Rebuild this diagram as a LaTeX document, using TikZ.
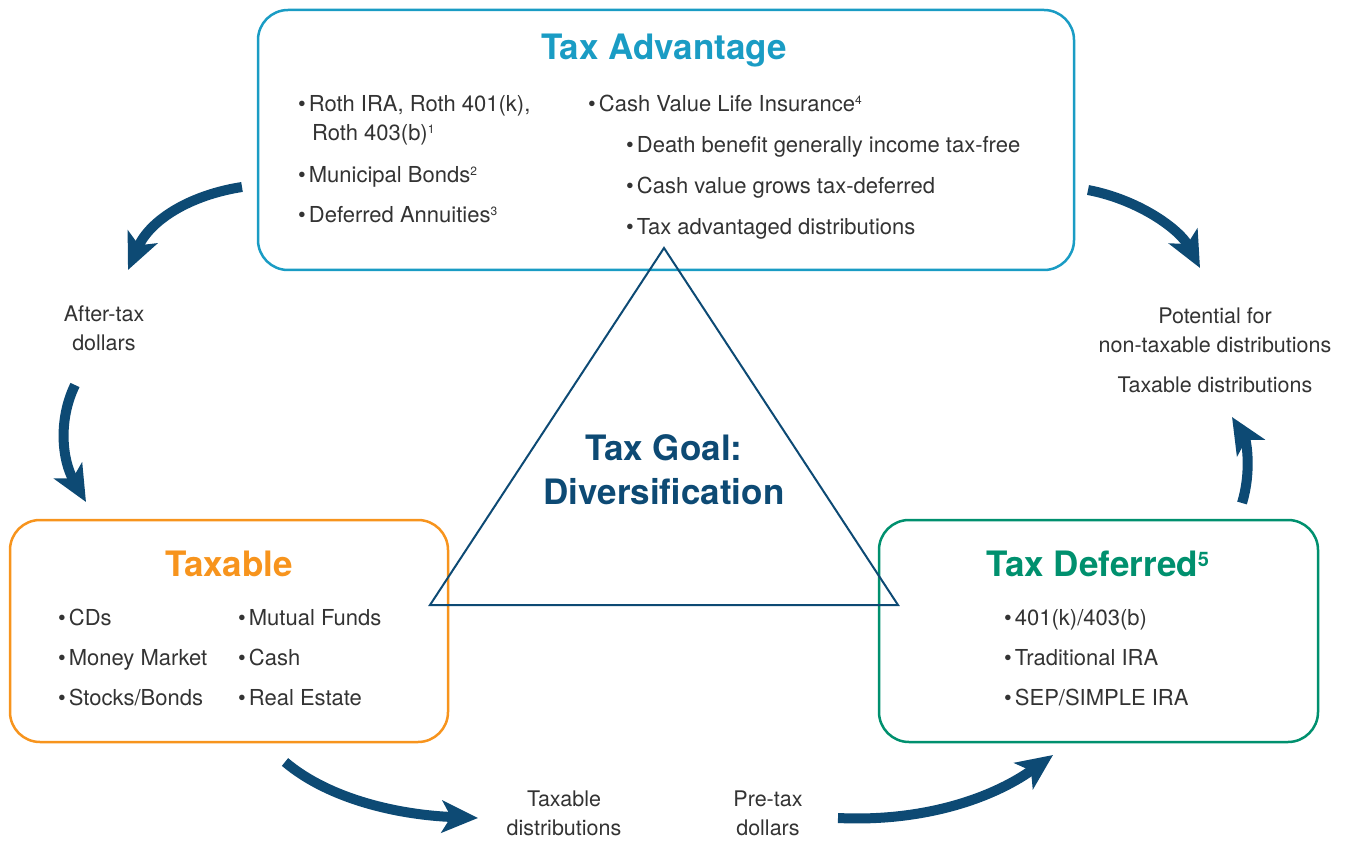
\documentclass[tikz,border=0pt]{standalone}
\usepackage{fontspec}
\setmainfont{TeX Gyre Heros}
\usetikzlibrary{arrows.meta}
\definecolor{advc}{HTML}{1A9CC4}
\definecolor{orc}{HTML}{F7941D}
\definecolor{grc}{HTML}{00906E}
\definecolor{navy}{HTML}{0D4A74}
\definecolor{txt}{HTML}{333333}
\tikzset{
  box/.style={draw, line width=2.5pt, rounded corners=30pt},
  ttl/.style={font=\fontsize{35}{40}\selectfont\bfseries, anchor=base},
  item/.style={font=\fontsize{22}{26}\selectfont, text=txt, anchor=base west, inner sep=0pt},
  lbl/.style={font=\fontsize{21.5}{29}\selectfont, text=txt, align=center, inner sep=0pt},
  bigarrow/.style={draw=navy, line width=10pt, -{Stealth[length=36pt,width=32pt,inset=9pt]}},
}
\newcommand{\bul}{\textbullet\hspace{3pt}}
\newcommand{\sps}[1]{\textsuperscript{\fontsize{12}{12}\selectfont #1}}
\begin{document}
\begin{tikzpicture}[x=1pt,y=-1pt]
\useasboundingbox (0,0) rectangle (1354,842);
% boxes
\draw[box, advc] (258,10) rectangle (1074,270);
\draw[box, orc] (10,520) rectangle (448,742);
\draw[box, grc] (879,520) rectangle (1318,742);
% triangle
\draw[navy, line width=2pt, line join=miter] (664,248) -- (898,605) -- (430,605) -- cycle;
% titles
\node[ttl, text=advc] (tadv) at (664,60) {Tax Advantage};
\node[ttl, text=orc] (ttax) at (229,576) {Taxable};
\node[ttl, text=grc] (tdef) at (1098,576) {Tax Deferred\textsuperscript{\fontsize{20}{20}\selectfont 5}};
\node[font=\fontsize{35}{44}\selectfont\bfseries, text=navy, align=center] (goal) at (664,470) {Tax Goal:\\Diversification};
% Tax Advantage items
\node[item] (a1) at (298,112) {\bul Roth IRA, Roth 401(k),};
\node[item] (a1b) at (312,141) {Roth 403(b)\sps{1}};
\node[item] (a2) at (298,183) {\bul Municipal Bonds\sps{2}};
\node[item] (a3) at (298,223) {\bul Deferred Annuities\sps{3}};
\node[item] (b1) at (588,112) {\bul Cash Value Life Insurance\sps{4}};
\node[item] (b2) at (626,153) {\bul Death benefit generally income tax-free};
\node[item] (b3) at (626,194) {\bul Cash value grows tax-deferred};
\node[item] (b4) at (626,235) {\bul Tax advantaged distributions};
% Taxable items
\node[item] (c1) at (58,625) {\bul CDs};
\node[item] (c2) at (58,665) {\bul Money Market};
\node[item] (c3) at (58,705) {\bul Stocks/Bonds};
\node[item] (d1) at (238,625) {\bul Mutual Funds};
\node[item] (d2) at (238,665) {\bul Cash};
\node[item] (d3) at (238,705) {\bul Real Estate};
% Tax Deferred items
\node[item] (e1) at (1004,625) {\bul 401(k)/403(b)};
\node[item] (e2) at (1004,665) {\bul Traditional IRA};
\node[item] (e3) at (1004,705) {\bul SEP/SIMPLE IRA};
% labels
\node[lbl] (lat) at (104,328) {After-tax\\dollars};
\node[lbl] (lpot) at (1215,330) {Potential for\\non-taxable distributions};
\node[lbl] (ltd) at (1215,385) {Taxable distributions};
\node[lbl] (ltx) at (564,813) {Taxable\\distributions};
\node[lbl] (lpt) at (768,813) {Pre-tax\\dollars};
% arrow endpoints
\coordinate (s1) at (242,187); \coordinate (t1) at (128,270);
\coordinate (s2) at (75,385);  \coordinate (t2) at (86,502);
\coordinate (s3) at (285,762); \coordinate (t3) at (478,818);
\coordinate (s4) at (838,818); \coordinate (t4) at (1053,755);
\coordinate (s5) at (1088,190); \coordinate (t5) at (1200,268);
\coordinate (s6) at (1242,503); \coordinate (t6) at (1232,417);
\draw[bigarrow] (s1) .. controls (190,195) and (150,220) .. (t1);
\draw[bigarrow] (s2) .. controls (58,420) and (62,460) .. (t2);
\draw[bigarrow] (s3) .. controls (330,800) and (400,815) .. (t3);
\draw[bigarrow] (s4) .. controls (920,822) and (990,800) .. (t4);
\draw[bigarrow] (s5) .. controls (1140,200) and (1180,230) .. (t5);
\draw[bigarrow] (s6) .. controls (1252,470) and (1246,440) .. (t6);
\end{tikzpicture}
\end{document}
